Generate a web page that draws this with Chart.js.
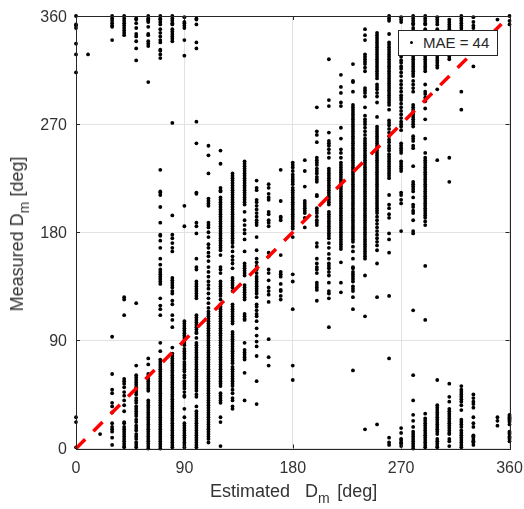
<!DOCTYPE html>
<html>
<head>
<meta charset="utf-8">
<script src="https://cdn.jsdelivr.net/npm/chart.js@4"></script>
<style>
  html, body { margin: 0; padding: 0; background: #fff; overflow: hidden; }
  #wrap { position: relative; width: 524px; height: 509px; font-family: "Liberation Sans", Arial, sans-serif; color: #333; }
  canvas { position: absolute; left: 0; top: 0; }
  .axis-title { position: absolute; font-size: 18px; white-space: pre; line-height: 20px; }
  .axis-title sub { font-size: 14px; line-height: 0; vertical-align: -6px; }
  #xTitle { left: 210px; top: 481px; word-spacing: 2.5px; }
  #yTitle { left: 17px; top: 234px; transform: translate(-50%, -50%) rotate(-90deg); }
  #legendBox { position: absolute; left: 398px; top: 30px; width: 98px; height: 24px; background: #fff; border: 1px solid #262626; box-sizing: content-box; font-size: 15px; line-height: 24px; color: #262626; }
  #legendBox i { position: absolute; left: 11px; top: 10px; width: 3px; height: 3px; border-radius: 50%; background: #000; }
  #legendBox span { position: absolute; left: 24px; top: 0; white-space: pre; }
</style>
</head>
<body>
<div id="wrap">
  <canvas id="scatter" width="524" height="509"></canvas>
  <div class="axis-title" id="xTitle">Estimated  D<sub>m</sub> [deg]</div>
  <div class="axis-title" id="yTitle">Measured D<sub>m</sub> [deg]</div>
  <div id="legendBox"><i></i><span id="legendText"></span></div>
</div>
<script>
// estimated direction only comes in 10 deg steps, so the points are kept per column
const estimatedColumns = [0, 10, 20, 30, 40, 50, 60, 70, 80, 90, 100, 110, 120, 130, 140, 150, 160, 170, 180,
  190, 200, 210, 220, 230, 240, 250, 260, 270, 280, 290, 300, 310, 320, 330, 350, 360];

const measuredByColumn = [
  /* 0 */ [360, 353, 352, 350, 337, 328, 313, 26, 22, 1],
  /* 10 */ [328],
  /* 20 */ [12],
  /* 30 */ [360, 358, 356, 354, 352, 351, 340, 93, 62, 49, 46, 38, 35, 30, 21, 18, 16, 14, 9, 3],
  /* 40 */ [360, 358, 356, 354, 352, 350, 348, 346, 344, 126, 124, 111, 58, 56, 54, 51, 47, 44, 40, 36, 31, 22, 21, 18, 16, 14, 12, 10, 8, 6, 4, 2, 1],
  /* 50 */ [358, 357, 354, 350, 345, 343, 339, 333, 323, 121, 69, 61, 59, 57, 55, 53, 51, 49, 47, 45, 42, 40, 38, 35, 33, 31, 29, 27, 24, 22, 19, 17, 15, 12, 10, 8, 5, 3, 1],
  /* 60 */ [360, 358, 357, 356, 355, 351, 345, 344, 339, 337, 335, 305, 75, 70, 62, 60, 58, 56, 54, 52, 50, 48, 40, 38, 36, 34, 32, 30, 28, 26, 24, 22, 20, 18, 16, 14, 12, 10, 8, 6, 4, 2, 0],
  /* 70 */ [360, 358, 357, 355, 353, 349, 346, 343, 340, 338, 332, 331, 328, 325, 232, 214, 213, 211, 201, 188, 178, 177, 173, 167, 158, 153, 149, 147, 145, 143, 141, 139, 137, 125, 119, 116, 111, 88, 81, 74, 72, 70, 68, 66, 64, 62, 60, 58, 56, 54, 52, 50, 48, 46, 44, 42, 40, 38, 36, 34, 32, 30, 28, 26, 24, 22, 20, 18, 16, 14, 12, 10, 8, 6, 4, 2, 0],
  /* 80 */ [360, 358, 356, 354, 353, 349, 347, 345, 343, 341, 339, 271, 194, 178, 175, 171, 167, 164, 142, 140, 138, 136, 134, 131, 129, 123, 120, 111, 107, 101, 84, 79, 77, 75, 73, 71, 69, 67, 65, 63, 61, 59, 57, 55, 53, 51, 49, 47, 45, 43, 41, 39, 37, 35, 33, 31, 29, 27, 25, 23, 21, 19, 17, 15, 13, 11, 9, 7, 5, 3, 1],
  /* 90 */ [359, 355, 354, 352, 350, 340, 327, 202, 185, 106, 104, 102, 100, 98, 96, 94, 92, 90, 88, 86, 83, 81, 79, 77, 75, 72, 70, 68, 66, 64, 61, 59, 56, 54, 52, 50, 47, 44, 43, 33, 26, 21, 19, 17, 15, 13, 11, 9, 7, 5, 3, 1],
  /* 100 */ [358, 357, 353, 338, 333, 272, 254, 213, 212, 188, 185, 179, 158, 151, 149, 139, 137, 135, 133, 131, 129, 127, 125, 111, 109, 107, 105, 103, 101, 99, 97, 96, 92, 88, 86, 84, 82, 80, 78, 76, 74, 72, 70, 68, 66, 64, 62, 60, 58, 56, 54, 52, 50, 48, 45, 43, 35, 31, 29, 27, 25, 23, 21, 19, 17, 15, 13, 11, 9, 7, 5, 3, 1],
  /* 110 */ [252, 244, 229, 208, 206, 204, 202, 188, 186, 184, 180, 176, 170, 167, 163, 160, 156, 151, 147, 143, 139, 136, 133, 129, 125, 121, 117, 114, 112, 110, 108, 106, 104, 102, 100, 98, 96, 94, 92, 90, 88, 86, 84, 82, 80, 78, 76, 74, 72, 70, 68, 66, 64, 62, 60, 58, 56, 54, 52, 50, 48, 46, 44, 42, 40, 38, 36, 34, 32, 30, 28, 26, 24, 22, 20, 18, 16, 14, 12, 10, 8, 5],
  /* 120 */ [248, 237, 217, 215, 214, 209, 207, 205, 203, 201, 199, 197, 195, 193, 191, 189, 187, 185, 183, 181, 179, 177, 175, 173, 171, 169, 167, 165, 161, 151, 149, 146, 139, 137, 135, 133, 131, 129, 127, 124, 120, 118, 116, 114, 112, 110, 108, 106, 104, 102, 100, 98, 96, 94, 92, 90, 88, 86, 84, 82, 80, 78, 76, 74, 72, 70, 68, 66, 64, 62, 60, 58, 56, 54, 52, 46, 44, 42, 40, 38, 26, 22, 2],
  /* 130 */ [229, 227, 225, 223, 221, 219, 217, 215, 213, 211, 209, 207, 205, 203, 201, 199, 197, 195, 193, 191, 189, 187, 185, 183, 181, 179, 177, 175, 173, 171, 168, 164, 160, 157, 154, 150, 142, 140, 138, 136, 134, 131, 120, 118, 116, 114, 112, 110, 108, 106, 104, 97, 95, 93, 91, 89, 87, 85, 83, 81, 79, 77, 75, 73, 71, 68, 66, 64, 62, 60, 58, 56, 54, 52, 49, 46, 42, 40, 35, 33],
  /* 140 */ [239, 237, 235, 233, 231, 229, 227, 225, 223, 221, 219, 217, 215, 213, 211, 209, 207, 205, 203, 197, 190, 186, 182, 179, 174, 164, 154, 152, 150, 148, 146, 144, 136, 134, 132, 130, 128, 126, 124, 112, 110, 108, 107, 88, 82, 80, 78, 76, 74, 63, 40],
  /* 150 */ [223, 217, 215, 207, 205, 202, 199, 196, 193, 190, 188, 186, 176, 165, 158, 155, 152, 149, 146, 143, 141, 139, 137, 135, 133, 131, 129, 126, 120, 118, 115, 112, 110, 106, 100, 94, 89, 85, 77, 56, 37],
  /* 160 */ [220, 217, 212, 209, 207, 197, 195, 190, 188, 185, 163, 160, 149, 146, 140, 134, 131, 128, 122, 91, 76, 69],
  /* 170 */ [232, 206, 193, 192, 190, 161, 147, 145, 143, 137, 132, 131, 127, 124],
  /* 180 */ [238, 236, 234, 231, 228, 226, 224, 222, 220, 217, 215, 213, 211, 209, 207, 205, 203, 201, 199, 197, 195, 193, 191, 189, 187, 185, 183, 176, 145, 139, 116, 69, 57],
  /* 190 */ [240, 231, 218, 206, 204, 202, 200, 198, 196, 192, 184],
  /* 200 */ [284, 264, 261, 255, 242, 240, 238, 236, 233, 231, 229, 226, 224, 222, 211, 210, 200, 198, 196, 193, 190, 188, 186, 171, 168, 158, 154, 151, 149, 146, 138, 136, 134, 132, 123],
  /* 210 */ [324, 290, 285, 263, 256, 254, 252, 249, 246, 242, 233, 231, 229, 227, 225, 223, 221, 219, 217, 215, 213, 211, 209, 207, 205, 203, 197, 195, 193, 191, 189, 187, 185, 183, 181, 179, 177, 175, 171, 167, 162, 158, 154, 152, 150, 147, 144, 138, 131, 129, 125, 101],
  /* 220 */ [311, 301, 296, 288, 285, 267, 258, 249, 246, 242, 238, 236, 234, 232, 230, 228, 226, 224, 222, 220, 218, 216, 214, 212, 210, 208, 206, 204, 202, 200, 198, 196, 194, 192, 190, 188, 186, 184, 182, 180, 178, 176, 174, 172, 170, 168, 166, 155, 138, 130],
  /* 230 */ [320, 306, 305, 297, 286, 284, 282, 280, 278, 276, 274, 272, 270, 268, 266, 264, 262, 260, 258, 256, 254, 252, 250, 248, 246, 244, 242, 240, 238, 236, 234, 232, 230, 228, 226, 224, 222, 220, 218, 216, 214, 212, 210, 208, 206, 204, 202, 200, 198, 196, 194, 192, 190, 188, 186, 184, 182, 180, 178, 176, 174, 172, 168, 164, 158, 151, 150, 147, 145, 143, 141, 139, 135, 133, 131, 126, 116, 65],
  /* 240 */ [349, 344, 340, 328, 326, 324, 322, 320, 317, 314, 300, 298, 296, 293, 284, 277, 274, 272, 270, 267, 264, 261, 258, 256, 254, 252, 250, 248, 246, 244, 242, 240, 238, 236, 234, 232, 230, 228, 226, 224, 222, 220, 218, 216, 214, 212, 210, 208, 206, 204, 202, 200, 198, 196, 194, 192, 190, 188, 186, 184, 182, 180, 178, 176, 174, 172, 170, 168, 166, 164, 162, 160, 158, 144, 110, 16],
  /* 250 */ [346, 344, 342, 340, 338, 336, 334, 332, 330, 328, 326, 324, 322, 320, 318, 316, 314, 312, 310, 308, 303, 301, 299, 296, 293, 288, 276, 268, 266, 264, 262, 260, 258, 256, 254, 252, 250, 248, 246, 244, 242, 240, 238, 236, 234, 232, 230, 228, 226, 224, 222, 220, 218, 216, 214, 212, 210, 208, 206, 204, 202, 200, 198, 196, 193, 190, 187, 184, 181, 178, 175, 172, 169, 165, 154, 126, 20],
  /* 260 */ [360, 358, 356, 345, 338, 336, 334, 332, 330, 328, 326, 324, 322, 320, 318, 316, 314, 312, 310, 308, 306, 304, 302, 300, 298, 296, 294, 292, 290, 288, 286, 282, 273, 271, 269, 266, 263, 260, 257, 255, 252, 250, 248, 245, 243, 241, 239, 237, 235, 233, 231, 229, 227, 225, 211, 203, 200, 195, 192, 179, 174, 163, 127, 75, 9, 5, 3],
  /* 270 */ [359, 357, 355, 328, 326, 323, 321, 318, 316, 313, 310, 306, 303, 300, 297, 294, 292, 290, 287, 284, 281, 278, 275, 272, 270, 268, 265, 254, 252, 250, 248, 246, 239, 237, 235, 233, 231, 213, 211, 207, 204, 181, 17, 13, 8, 7, 5, 4, 2],
  /* 280 */ [360, 358, 356, 354, 353, 350, 348, 346, 344, 342, 340, 338, 336, 334, 332, 330, 328, 326, 324, 322, 320, 318, 316, 314, 312, 310, 306, 303, 300, 297, 286, 284, 282, 280, 278, 276, 274, 272, 270, 268, 260, 258, 256, 252, 250, 235, 222, 220, 218, 216, 214, 209, 203, 201, 198, 196, 190, 181, 179, 115, 61, 40, 28, 23, 18, 14, 12, 10, 8, 6, 4, 2, 0],
  /* 290 */ [360, 358, 356, 354, 353, 349, 347, 345, 343, 336, 334, 332, 330, 328, 326, 324, 322, 320, 318, 316, 314, 303, 297, 295, 292, 289, 283, 274, 258, 246, 242, 240, 238, 236, 234, 232, 230, 228, 226, 224, 222, 220, 218, 216, 214, 212, 210, 208, 206, 204, 202, 200, 198, 196, 194, 192, 189, 186, 152, 107, 29, 25, 23, 21, 19, 17, 15, 13, 11, 9, 7, 5, 3, 1],
  /* 300 */ [359, 357, 355, 353, 349, 347, 339, 337, 335, 333, 331, 329, 327, 325, 323, 321, 319, 317, 299, 240, 57, 36, 34, 32, 30, 28, 26, 24, 22, 20, 18, 16, 14, 12, 8, 6, 4, 2, 1],
  /* 310 */ [357, 355, 353, 351, 349, 347, 345, 342, 333, 331, 329, 326, 324, 242, 222, 54, 43, 39, 33, 31, 29, 27, 25, 23, 21, 19, 17, 15, 13, 12, 8, 6, 2],
  /* 320 */ [360, 358, 356, 354, 352, 350, 348, 346, 333, 297, 282, 52, 49, 47, 45, 43, 41, 39, 36, 32, 24, 22, 20, 18, 15, 13, 11, 9, 7, 5, 3, 1],
  /* 330 */ [359, 355, 352, 350, 346, 318, 45, 42, 39, 37, 34, 26, 21, 18, 11, 10, 9, 7, 6, 5, 3],
  /* 350 */ [357, 26, 23, 19],
  /* 360 */ [360, 356, 353, 28, 27, 26, 25, 24, 23, 22, 20, 14, 13, 12, 10, 9, 8, 6]
];

const oneToOne = [0, 360];
const axisTicks = [0, 90, 180, 270, 360];
const legendLabel = 'MAE = 44';

const points = [];
estimatedColumns.forEach(function (x, i) {
  measuredByColumn[i].forEach(function (y) {
    points.push({ x: x, y: y });
  });
});

document.getElementById('legendText').textContent = legendLabel;

const axisColor = '#262626';
const gridColor = '#e2e2e2';

// box on all four sides with matlab style ticks pointing inwards
const boxPlugin = {
  id: 'boxPlugin',
  afterDatasetsDraw: function (chart) {
    const c = chart.ctx, a = chart.chartArea;
    const sx = chart.scales.x, sy = chart.scales.y;
    c.save();
    c.strokeStyle = axisColor;
    c.lineWidth = 1;
    c.strokeRect(Math.round(a.left) + 0.5, Math.round(a.top) + 0.5, Math.round(a.right - a.left), Math.round(a.bottom - a.top));
    c.beginPath();
    axisTicks.forEach(function (t) {
      const px = Math.round(sx.getPixelForValue(t)) + 0.5;
      const py = Math.round(sy.getPixelForValue(t)) + 0.5;
      c.moveTo(px, a.bottom); c.lineTo(px, a.bottom - 4);
      c.moveTo(px, a.top); c.lineTo(px, a.top + 4);
      c.moveTo(a.left, py); c.lineTo(a.left + 4, py);
      c.moveTo(a.right, py); c.lineTo(a.right - 4, py);
    });
    c.stroke();
    c.restore();
  }
};

function makeScale(fixedSize, tickPadding, tickOffset) {
  return {
    type: 'linear',
    min: 0,
    max: 360,
    afterBuildTicks: function (scale) {
      scale.ticks = axisTicks.map(function (v) { return { value: v }; });
    },
    afterFit: function (scale) {
      if (scale.isHorizontal()) scale.height = fixedSize; else scale.width = fixedSize;
      // the end labels may hang over the plot, dont let them shrink it
      scale.paddingLeft = 0;
      scale.paddingRight = 0;
      scale.paddingTop = 0;
      scale.paddingBottom = 0;
    },
    border: { display: false },
    grid: { color: gridColor, lineWidth: 1, drawTicks: false },
    ticks: {
      autoSkip: false,
      maxRotation: 0,
      padding: tickPadding,
      labelOffset: tickOffset,
      color: '#333',
      font: { family: '"Liberation Sans", Arial, sans-serif', size: 16 }
    }
  };
}

const ctx = document.getElementById('scatter').getContext('2d');
new Chart(ctx, {
  type: 'scatter',
  data: {
    datasets: [{
      label: legendLabel,
      data: points,
      pointRadius: 1.9,
      pointBorderWidth: 0,
      pointBackgroundColor: '#000',
      clip: false,
      order: 2
    }, {
      type: 'line',
      label: '1:1',
      data: oneToOne.map(function (v) { return { x: v, y: v }; }),
      borderColor: '#ff0000',
      borderWidth: 3.5,
      borderDash: [13, 11.5],
      pointRadius: 0,
      fill: false,
      clip: false,
      order: 1
    }]
  },
  options: {
    responsive: false,
    animation: false,
    layout: { padding: { left: 0, right: 14.5, top: 16, bottom: 0 } },
    plugins: { legend: { display: false }, tooltip: { enabled: false }, title: { display: false } },
    scales: { x: makeScale(60.5, 10, 0), y: makeScale(76, 9, 1.5) }
  },
  plugins: [boxPlugin]
});
</script>
</body>
</html>
